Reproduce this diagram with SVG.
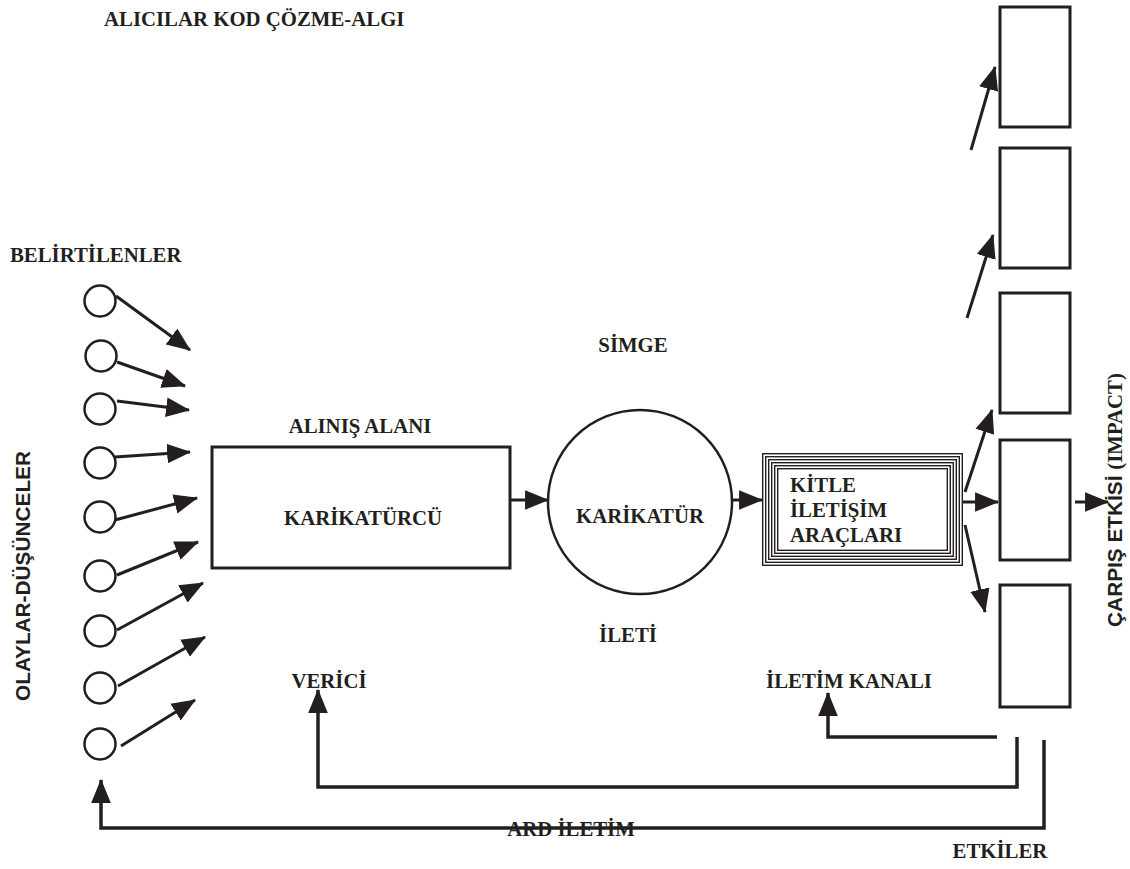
<svg xmlns="http://www.w3.org/2000/svg" width="1130" height="869" viewBox="0 0 1130 869">
<style>
.t{font-family:"Liberation Serif","Times New Roman",serif;font-weight:bold;font-size:20.8px;fill:#231f20}
.s{font-family:"Liberation Sans",Arial,sans-serif;font-weight:bold;font-size:20.8px;fill:#231f20}
.ln{fill:none;stroke:#231f20;stroke-width:3}
.fb{fill:none;stroke:#231f20;stroke-width:3.5}
.box{fill:#fff;stroke:#231f20;stroke-width:3}
.c{fill:#fff;stroke:#231f20;stroke-width:2.5}
.k{fill:none;stroke:#231f20;stroke-width:1.4}
</style>
<defs>
<marker id="ah" markerUnits="userSpaceOnUse" markerWidth="24" markerHeight="20" viewBox="0 0 22 18" refX="21" refY="9" orient="auto">
<path d="M0,0 L22,9 L0,18 z" fill="#231f20"/>
</marker>
</defs>
<rect width="1130" height="869" fill="#fff"/>

<g id="labels">
<text class="t" x="104" y="26">ALICILAR KOD ÇÖZME-ALGI</text>
<text class="t" x="10" y="262">BELİRTİLENLER</text>
<text class="t" x="360" y="433" text-anchor="middle">ALINIŞ ALANI</text>
<text class="t" x="633" y="352" text-anchor="middle">SİMGE</text>
<text class="t" x="628" y="642" text-anchor="middle">İLETİ</text>
<text class="t" x="329" y="688" text-anchor="middle">VERİCİ</text>
<text class="t" x="849" y="688" text-anchor="middle">İLETİM KANALI</text>
<text class="t" x="1000" y="858" text-anchor="middle">ETKİLER</text>
<text class="s" transform="translate(30,576) rotate(-90)" text-anchor="middle">OLAYLAR-DÜŞÜNCELER</text>
<text class="s" transform="translate(1122,500) rotate(-90)" text-anchor="middle">ÇARPIŞ ETKİSİ <tspan style="font-family:'Liberation Serif','Times New Roman',serif">(IMPACT)</tspan></text>
</g>

<g id="events">
<circle class="c" cx="100" cy="301" r="15.5"/>
<circle class="c" cx="101" cy="356" r="15.5"/>
<circle class="c" cx="100" cy="409" r="15.5"/>
<circle class="c" cx="100" cy="463" r="15.5"/>
<circle class="c" cx="100" cy="517" r="15.5"/>
<circle class="c" cx="100" cy="576" r="15.5"/>
<circle class="c" cx="100" cy="631" r="15.5"/>
<circle class="c" cx="100" cy="688" r="15.5"/>
<circle class="c" cx="100" cy="744" r="15.5"/>
</g>

<g id="karikaturcu">
<rect class="box" x="212" y="447" width="298" height="121"/>
<text class="t" x="363" y="525" text-anchor="middle">KARİKATÜRCÜ</text>
</g>

<g id="karikatur">
<circle class="c" cx="640" cy="502" r="92"/>
<text class="t" x="640" y="523" text-anchor="middle">KARİKATÜR</text>
</g>

<g id="kitle">
<rect x="762" y="453" width="201" height="113" fill="#fff"/>
<rect class="k" x="762.7" y="453.7" width="199.6" height="111.6"/>
<rect class="k" x="765.7" y="456.7" width="193.6" height="105.6"/>
<rect class="k" x="768.7" y="459.7" width="187.6" height="99.6"/>
<rect class="k" x="771.7" y="462.7" width="181.6" height="93.6"/>
<rect class="k" x="774.7" y="465.7" width="175.6" height="87.6"/>
<rect class="k" x="777.7" y="468.7" width="169.6" height="81.6"/>
<text class="t" x="790" y="492">KİTLE</text>
<text class="t" x="790" y="517">İLETİŞİM</text>
<text class="t" x="790" y="542">ARAÇLARI</text>
</g>

<g id="effects">
<rect class="box" x="1000" y="7" width="70" height="120"/>
<rect class="box" x="1000" y="148" width="70" height="120"/>
<rect class="box" x="1000" y="293" width="70" height="120"/>
<rect class="box" x="1000" y="440" width="70" height="120"/>
<rect class="box" x="1000" y="585" width="70" height="122"/>
</g>

<g id="connectors">
<line class="ln" x1="116" y1="296" x2="190" y2="350" marker-end="url(#ah)"/>
<line class="ln" x1="117" y1="362" x2="185" y2="386" marker-end="url(#ah)"/>
<line class="ln" x1="117" y1="401" x2="189" y2="410" marker-end="url(#ah)"/>
<line class="ln" x1="115" y1="457" x2="190" y2="452" marker-end="url(#ah)"/>
<line class="ln" x1="115" y1="520" x2="197" y2="498" marker-end="url(#ah)"/>
<line class="ln" x1="117" y1="575" x2="198" y2="542" marker-end="url(#ah)"/>
<line class="ln" x1="117" y1="630" x2="203" y2="583" marker-end="url(#ah)"/>
<line class="ln" x1="118" y1="686" x2="205" y2="637" marker-end="url(#ah)"/>
<line class="ln" x1="121" y1="746" x2="195" y2="700" marker-end="url(#ah)"/>

<line class="ln" x1="510" y1="500" x2="548" y2="500" marker-end="url(#ah)"/>
<line class="ln" x1="733" y1="500" x2="762" y2="500" marker-end="url(#ah)"/>

<line class="ln" x1="971" y1="150" x2="995" y2="67" marker-end="url(#ah)"/>
<line class="ln" x1="967" y1="318" x2="993" y2="235" marker-end="url(#ah)"/>
<line class="ln" x1="965" y1="492" x2="992" y2="410" marker-end="url(#ah)"/>
<line class="ln" x1="963" y1="502" x2="998" y2="502" marker-end="url(#ah)"/>
<line class="ln" x1="965" y1="525" x2="985" y2="612" marker-end="url(#ah)"/>
<line class="ln" x1="1075" y1="502" x2="1108" y2="502" marker-end="url(#ah)"/>

<path class="fb" d="M997,737 H828 V693" marker-end="url(#ah)"/>
<path class="fb" d="M1017,737 V787 H318 V690" marker-end="url(#ah)"/>
<path class="fb" d="M1044,740 V828 H101 V780" marker-end="url(#ah)"/>
</g>

<g id="feedback-label">
<text class="t" x="571" y="836" text-anchor="middle">ARD İLETİM</text>
</g>
</svg>
